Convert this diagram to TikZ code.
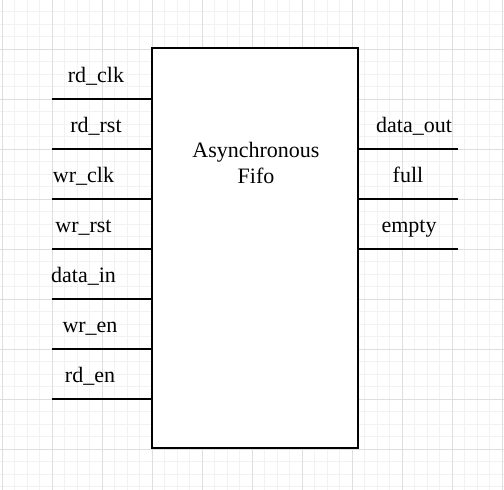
\documentclass[tikz,border=0pt]{standalone}
\usepackage{fontspec}
\setmainfont{Liberation Serif}
\usetikzlibrary{positioning}

\begin{document}
\begin{tikzpicture}[
  x=1pt, y=-1pt,
  minorline/.style={draw=black!5, line width=0.7pt},
  majorline/.style={draw=black!13, line width=0.8pt},
  wire/.style={line width=1.2pt},
  portlabel/.style={anchor=base, inner sep=0pt, font=\fontsize{22}{26}\selectfont}]

  \useasboundingbox (0,0) rectangle (504,490);

  % background grid
  \foreach \gx in {2,14.5,...,504} \draw[minorline] (\gx,0) -- (\gx,490);
  \foreach \gy in {11.5,24,...,490} \draw[minorline] (0,\gy) -- (504,\gy);
  \foreach \gx in {2,52,...,502} \draw[majorline] (\gx,0) -- (\gx,490);
  \foreach \gy in {49,99,...,490} \draw[majorline] (0,\gy) -- (504,\gy);

  % the block
  \node[draw, fill=white, line width=1.2pt, inner sep=0pt,
        minimum width=206pt, minimum height=400pt] (fifo) at (255,248) {};
  \node[align=center, inner sep=0pt, font=\fontsize{22}{26.7}\selectfont]
        (title) at (256,163) {Asynchronous\\Fifo};

  % inputs
  \coordinate (rdclk) at (52,99);
  \coordinate (rdrst) at (52,149);
  \coordinate (wrclk) at (52,199);
  \coordinate (wrrst) at (52,249);
  \coordinate (datain) at (52,299);
  \coordinate (wren) at (52,349);
  \coordinate (rden) at (52,399);
  \draw[wire] (rdclk) -- (rdclk -| fifo.west);
  \draw[wire] (rdrst) -- (rdrst -| fifo.west);
  \draw[wire] (wrclk) -- (wrclk -| fifo.west);
  \draw[wire] (wrrst) -- (wrrst -| fifo.west);
  \draw[wire] (datain) -- (datain -| fifo.west);
  \draw[wire] (wren) -- (wren -| fifo.west);
  \draw[wire] (rden) -- (rden -| fifo.west);
  \node[portlabel] (rdclk label) at (96,82) {rd\_clk};
  \node[portlabel] (rdrst label) at (96,132) {rd\_rst};
  \node[portlabel] (wrclk label) at (83.5,182) {wr\_clk};
  \node[portlabel] (wrrst label) at (83.5,232) {wr\_rst};
  \node[portlabel] (datain label) at (83.5,282) {data\_in};
  \node[portlabel] (wren label) at (90,332) {wr\_en};
  \node[portlabel] (rden label) at (90,382) {rd\_en};

  % outputs
  \coordinate (dataout) at (458,149);
  \coordinate (full) at (458,199);
  \coordinate (empty) at (458,249);
  \draw[wire] (dataout -| fifo.east) -- (dataout);
  \draw[wire] (full -| fifo.east) -- (full);
  \draw[wire] (empty -| fifo.east) -- (empty);
  \node[portlabel] (dataout label) at (414,132) {data\_out};
  \node[portlabel] (full label) at (408,182) {full};
  \node[portlabel] (empty label) at (409,232) {empty};
\end{tikzpicture}
\end{document}
